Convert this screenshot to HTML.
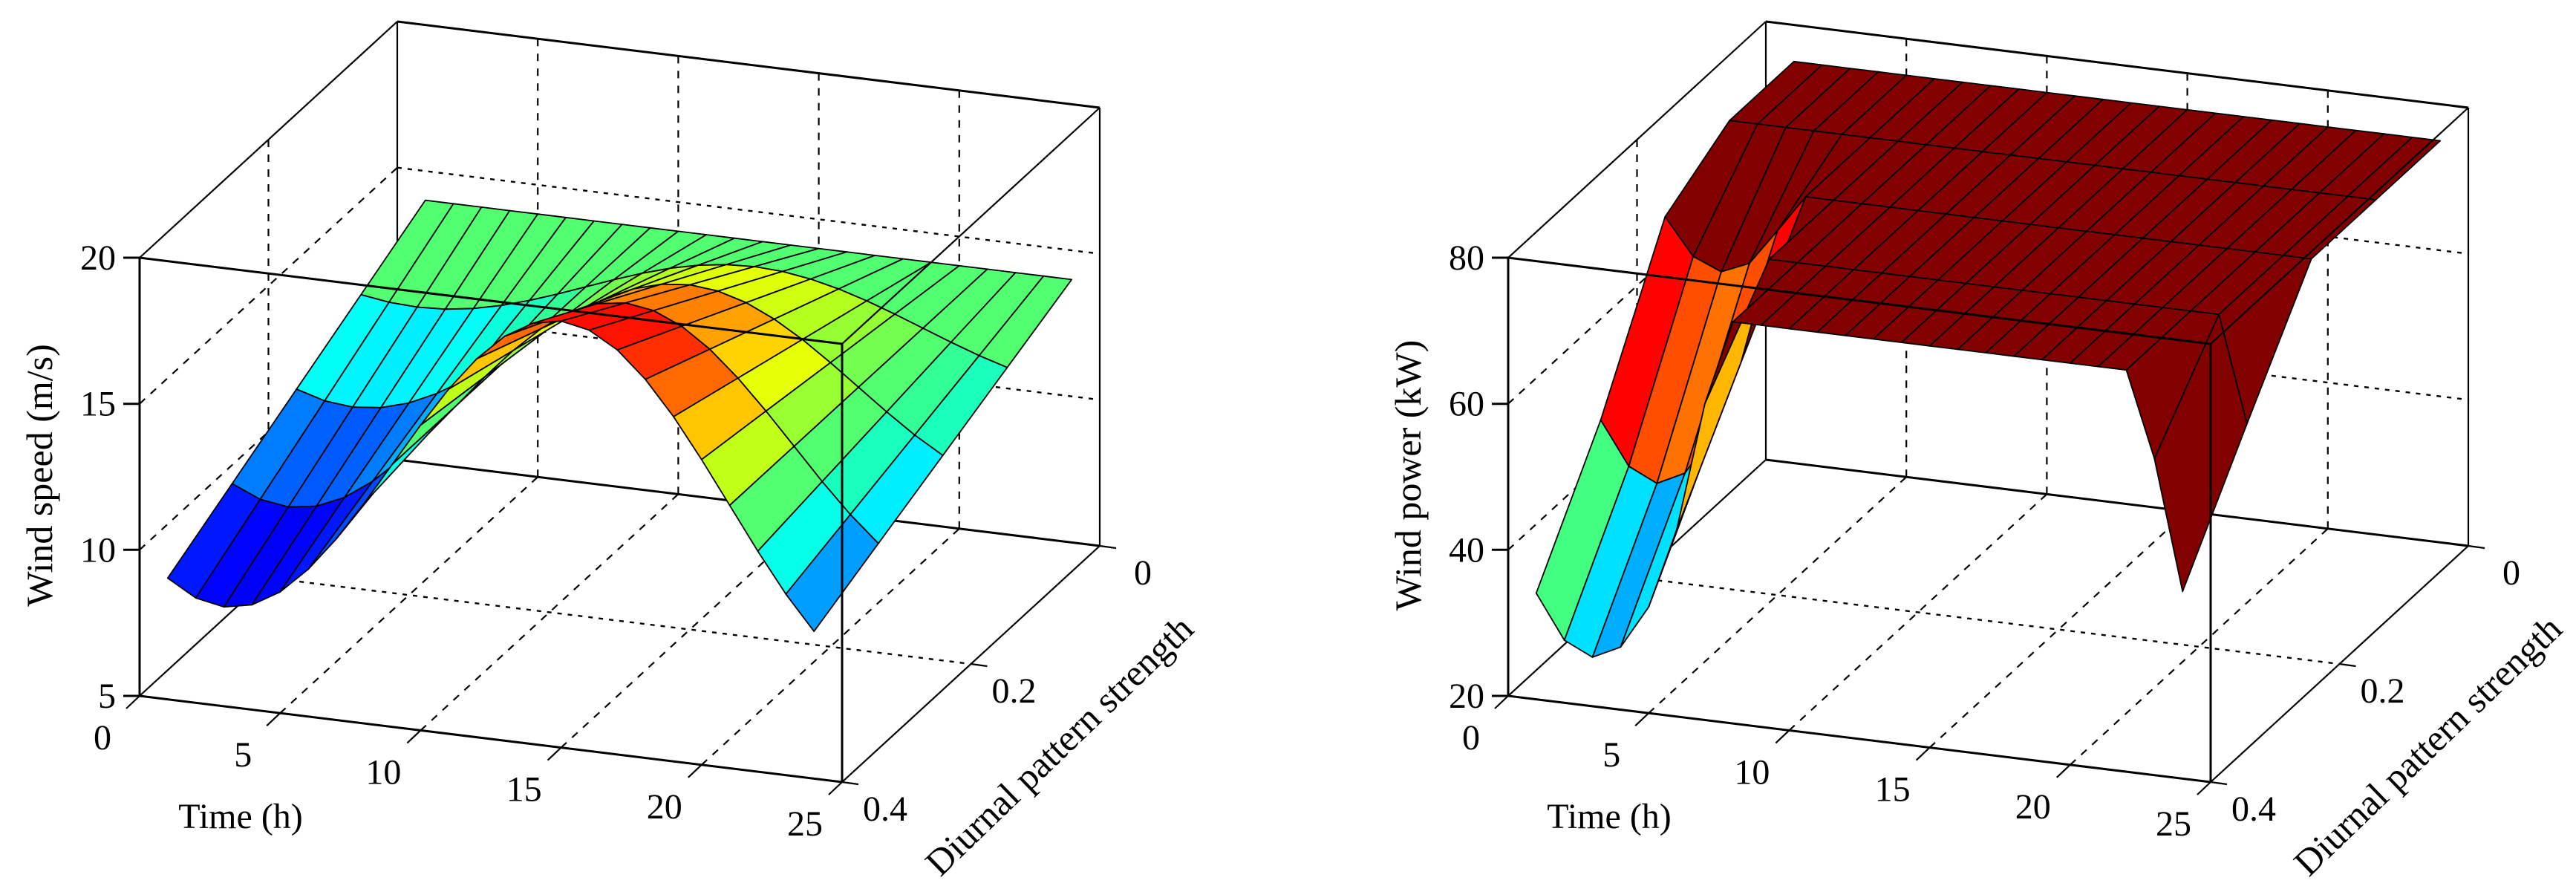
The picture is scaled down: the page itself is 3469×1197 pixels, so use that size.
<!DOCTYPE html>
<html><head><meta charset="utf-8">
<style>
html,body{margin:0;padding:0;background:#fff;}
svg{display:block;}
text{font-family:"Liberation Serif","Times New Roman",serif;fill:#000;}
</style></head>
<body>
<svg id="chart" width="3469" height="1197" viewBox="0 0 3469 1197" xmlns="http://www.w3.org/2000/svg">
<rect width="3469" height="1197" fill="#fff"/>
<g id="panelA"></g>
<g id="panelB"></g>
</svg>
<script>
// ---- data ----
const hours = [1,2,3,4,5,6,7,8,9,10,11,12,13,14,15,16,17,18,19,20,21,22,23,24];
const diurnalLevels = [0, 0.1, 0.2, 0.3, 0.4];
const diurnalProfile = [-0.866,-0.966,-1.0,-0.966,-0.866,-0.707,-0.5,-0.259,0.0,0.259,0.5,0.707,
                        0.866,0.966,1.0,0.966,0.866,0.707,0.5,0.259,0.0,-0.259,-0.5,-0.707];
const meanSpeed = 14;
const ratedPower = 75;
const ratedSpeed = 11.85;
const timeTicks = [0,5,10,15,20,25];
const diurnalTicks = [0,0.2,0.4];
const diurnalTickLabels = ['0','0.2','0.4'];
const speedTicks = [5,10,15,20];
const powerTicks = [20,40,60,80];

const NS = 'http://www.w3.org/2000/svg';
function mk(tag, attrs, parent){
  const e = document.createElementNS(NS, tag);
  for (const k in attrs) e.setAttribute(k, attrs[k]);
  parent.appendChild(e);
  return e;
}
function jet(x){
  x = Math.max(0, Math.min(1, x)) * 0.97;
  const c = v => Math.round(255*Math.pow(Math.max(0, Math.min(1, v)), 1.4));
  return 'rgb(' + c(1.5-Math.abs(4*x-3)) + ',' + c(1.5-Math.abs(4*x-2)) + ',' + c(1.5-Math.abs(4*x-1)) + ')';
}
function speedAt(i, j){ return meanSpeed * (1 + diurnalLevels[j] * diurnalProfile[i]); }
function powerAt(i, j){
  const v = speedAt(i, j);
  return v >= ratedSpeed ? ratedPower : ratedPower * Math.pow(v/ratedSpeed, 3);
}

function drawPanel(g, ox, zmin, zmax, zTicks, valueFn, zLabel, prefix){
  const T = [946, 116], D = [347, -318], H = 590, oy = 937;
  const P = (t, d, z) => [ox + T[0]*t/25 + D[0]*(0.4-d)/0.4,
                          oy + T[1]*t/25 + D[1]*(0.4-d)/0.4 - H*(z-zmin)/(zmax-zmin)];
  const line = (a, b, w, dash, name) => {
    const l = mk('line', {x1:a[0].toFixed(1), y1:a[1].toFixed(1), x2:b[0].toFixed(1), y2:b[1].toFixed(1),
      stroke:'#000', 'stroke-width':w, 'stroke-dasharray':dash || 'none'}, g);
    
    
    return l;
  };
  const gz = zTicks.slice(1, -1);
  timeTicks.slice(1, -1).forEach(t => {
    line(P(t,0.4,zmin), P(t,0,zmin), 2.2, '10,10', prefix + '-floor-grid-t');
    line(P(t,0,zmin), P(t,0,zmax), 2.2, '10,10', prefix + '-back-grid-t');
  });
  line(P(0,0.2,zmin), P(25,0.2,zmin), 2.4, '6,8', prefix + '-floor-grid-d');
  line(P(0,0.2,zmin), P(0,0.2,zmax), 2.2, '10,10', prefix + '-left-grid-d');
  gz.forEach(z => {
    line(P(0,0,z), P(25,0,z), 2.4, '6,8', prefix + '-back-grid-z');
    line(P(0,0.4,z), P(0,0,z), 2.2, '10,10', prefix + '-left-grid-z');
  });
  line(P(0,0,zmin), P(0,0,zmax), 2.2, null, prefix + '-box-edge');
  line(P(25,0,zmin), P(25,0,zmax), 2.2, null, prefix + '-box-edge');
  line(P(0,0,zmin), P(25,0,zmin), 3, null, prefix + '-box-edge');
  line(P(0,0.4,zmin), P(0,0,zmin), 2.2, null, prefix + '-box-edge');
  line(P(0,0,zmax), P(25,0,zmax), 3, null, prefix + '-box-edge');
  line(P(0,0.4,zmax), P(0,0,zmax), 2.2, null, prefix + '-box-edge');
  let vmin = Infinity, vmax = -Infinity;
  for (let i = 0; i < hours.length; i++) for (let j = 0; j < diurnalLevels.length; j++) {
    const v = valueFn(i, j); vmin = Math.min(vmin, v); vmax = Math.max(vmax, v);
  }
  const faces = [];
  for (let i = 0; i < hours.length-1; i++) for (let j = 0; j < diurnalLevels.length-1; j++) {
    const tc = (hours[i]+hours[i+1])/2, dc = (diurnalLevels[j]+diurnalLevels[j+1])/2;
    faces.push({i, j, depth: 344*tc/25 + 954*dc/0.4});
  }
  faces.sort((a, b) => a.depth - b.depth);
  const sg = mk('g', {}, g);
  
  
  faces.forEach(f => {
    const {i, j} = f;
    const pts = [[i,j],[i+1,j],[i+1,j+1],[i,j+1]].map(([a,b]) => P(hours[a], diurnalLevels[b], valueFn(a,b)));
    const col = jet((valueFn(i,j) - vmin) / (vmax - vmin));
    const p = mk('polygon', {points: pts.map(q => q[0].toFixed(1)+','+q[1].toFixed(1)).join(' '),
      fill: col, stroke:'#000', 'stroke-width':1.8, 'stroke-linejoin':'round'}, sg);
    
    
  });
  line(P(0,0.4,zmin), P(0,0.4,zmax), 3, null, prefix + '-z-axis');
  line(P(0,0.4,zmax), P(25,0.4,zmax), 3, null, prefix + '-box-edge');
  line(P(25,0.4,zmax), P(25,0,zmax), 2.2, null, prefix + '-box-edge');
  line(P(25,0.4,zmin), P(25,0.4,zmax), 3, null, prefix + '-box-edge');
  line(P(0,0.4,zmin), P(25,0.4,zmin), 3, null, prefix + '-time-axis');
  line(P(25,0.4,zmin), P(25,0,zmin), 2.2, null, prefix + '-diurnal-axis');
  zTicks.forEach(z => {
    const a = P(0,0.4,z);
    line([a[0]-22, a[1]], a, 3, null, prefix + '-z-tick');
    const tx = mk('text', {x:(a[0]-32).toFixed(1), y:(a[1]+16).toFixed(1), 'font-size':48, 'text-anchor':'end'}, g);
    tx.textContent = String(z);
    
    
  });
  timeTicks.forEach(t => {
    const a = P(t,0.4,zmin);
    line(a, [a[0]-18, a[1]+17], 2.2, null, prefix + '-time-tick');
    const tx = mk('text', {x:(a[0]-50).toFixed(1), y:(a[1]+72).toFixed(1), 'font-size':48, 'text-anchor':'middle'}, g);
    tx.textContent = String(t);
    
    
  });
  diurnalTicks.forEach((d, k) => {
    const a = P(25,d,zmin);
    line(a, [a[0]+22, a[1]+3], 2.2, null, prefix + '-diurnal-tick');
    const tx = mk('text', {x:(a[0]+58).toFixed(1), y:(a[1]+52).toFixed(1), 'font-size':48, 'text-anchor':'middle'}, g);
    tx.textContent = diurnalTickLabels[k];
    
    
  });
  const zl = mk('text', {x:0, y:0, 'font-size':50, 'text-anchor':'middle',
    transform:'translate(' + (ox-118) + ',640) rotate(-90)'}, g);
  zl.textContent = zLabel;
  
  
  const tl = mk('text', {x:ox+136, y:1115, 'font-size':48, 'text-anchor':'middle'}, g);
  tl.textContent = 'Time (h)';
  
  
  const dl = mk('text', {x:0, y:0, 'font-size':50, 'text-anchor':'middle',
    transform:'translate(' + (ox+1250) + ',1016) rotate(-44)'}, g);
  dl.textContent = 'Diurnal pattern strength';
  
  
}

drawPanel(document.getElementById('panelA'), 188, 5, 20, speedTicks, speedAt, 'Wind speed (m/s)', 'speed');
drawPanel(document.getElementById('panelB'), 2031, 20, 80, powerTicks, powerAt, 'Wind power (kW)', 'power');
</script>
</body></html>
